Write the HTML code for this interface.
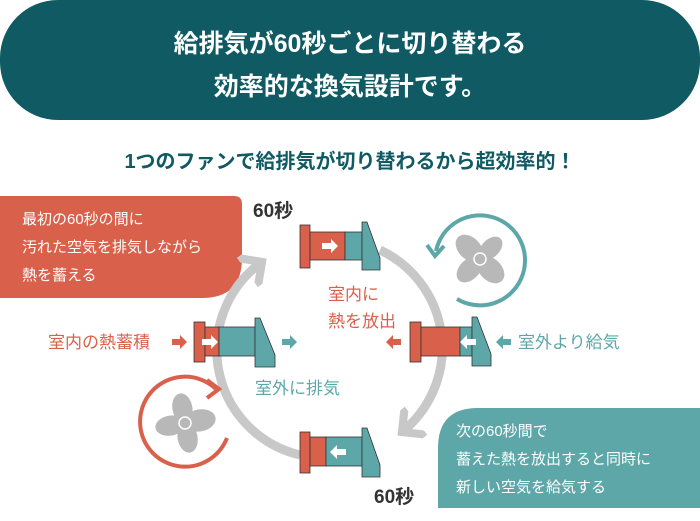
<!DOCTYPE html>
<html><head><meta charset="utf-8"><style>
html,body{margin:0;padding:0;background:#fff}
svg{display:block}
text{font-family:"Liberation Sans","Noto Sans CJK JP",sans-serif}
</style></head><body>
<svg width="700" height="521" viewBox="0 0 700 521" xmlns="http://www.w3.org/2000/svg">
<defs>
<marker id="ga" markerWidth="4" markerHeight="4" refX="2" refY="2" orient="auto" markerUnits="strokeWidth"><path d="M0,0 L2,2 L0,4" fill="none" stroke="#c8c8c8" stroke-width="0.9"/></marker>
</defs>
<rect x="0" y="0" width="700" height="120" rx="58" fill="#0f5a63"/>
<text x="350" y="52" text-anchor="middle" fill="#fff" font-size="25" font-weight="bold">給排気が60秒ごとに切り替わる</text>
<text x="350" y="95" text-anchor="middle" fill="#fff" font-size="25" font-weight="bold">効率的な換気設計です。</text>
<text x="350" y="168" text-anchor="middle" fill="#0f5a63" font-size="20" font-weight="bold">1つのファンで給排気が切り替わるから超効率的！</text>

<path d="M0,196 H234 Q242,196 242,204 V258 Q242,298 202,298 H0 Z" fill="#d9614c"/>
<text fill="#fff" font-size="15"><tspan x="22" y="224">最初の60秒の間に</tspan><tspan x="22" y="252">汚れた空気を排気しながら</tspan><tspan x="22" y="280">熱を蓄える</tspan></text>
<path d="M700,408 H478 Q438,408 438,448 V508 H700 Z" fill="#5ea7a9"/>
<text fill="#fff" font-size="15"><tspan x="456" y="436">次の60秒間で</tspan><tspan x="456" y="464">蓄えた熱を放出すると同時に</tspan><tspan x="456" y="492">新しい空気を給気する</tspan></text>

<path d="M300,455 A108,108 0 0 1 262,262" fill="none" stroke="#c8c8c8" stroke-width="9" marker-end="url(#ga)"/>
<path d="M380,250 A108,108 0 0 1 402,432" fill="none" stroke="#c8c8c8" stroke-width="9" marker-end="url(#ga)"/>

<g stroke="#333" stroke-width="0.8">
<rect x="300" y="225" width="10" height="43" fill="#d9614c"/>
<rect x="310" y="232" width="35" height="28" fill="#d9614c"/>
<rect x="345" y="232" width="17" height="28" fill="#5ea7a9"/>
<path d="M362,222 H367 L380,258 V270 H362 Z" fill="#5ea7a9"/>
<rect x="194" y="322" width="11" height="40" fill="#d9614c"/>
<rect x="205" y="327" width="14" height="29" fill="#d9614c"/>
<rect x="219" y="327" width="36" height="29" fill="#5ea7a9"/>
<path d="M255,318 H260 L275,355 V367 H255 Z" fill="#5ea7a9"/>
<rect x="410" y="322" width="11" height="40" fill="#d9614c"/>
<rect x="421" y="327" width="39" height="29" fill="#d9614c"/>
<rect x="460" y="327" width="12" height="29" fill="#5ea7a9"/>
<path d="M472,317 H477 L491,354 V366 H472 Z" fill="#5ea7a9"/>
<rect x="300" y="432" width="10" height="41" fill="#d9614c"/>
<rect x="310" y="437" width="16" height="29" fill="#d9614c"/>
<rect x="326" y="437" width="36" height="29" fill="#5ea7a9"/>
<path d="M362,428 H367 L380,465 V477 H362 Z" fill="#5ea7a9"/>
</g>
<g fill="#fff">
<path d="M322,243 H331 V239 L338,246 L331,253 V249 H322 Z"/>
<path d="M202,339 H211 V335 L218,342 L211,349 V345 H202 Z"/>
<path d="M476,339 H467 V335 L460,342 L467,349 V345 H476 Z"/>
<path d="M346,449 H337 V445 L330,452 L337,459 V455 H346 Z"/>
</g>
<path d="M172,339 H180 V335 L187,342 L180,349 V345 H172 Z" fill="#d9614c"/>
<path d="M282,339 H290 V335 L297,342 L290,349 V345 H282 Z" fill="#5ea7a9"/>
<path d="M401,339 H393 V335 L386,342 L393,349 V345 H401 Z" fill="#d9614c"/>
<path d="M511,339 H503 V335 L496,342 L503,349 V345 H511 Z" fill="#5ea7a9"/>

<!-- top-right fan -->
<path d="M457,299 A45,45 0 1 0 436,251" fill="none" stroke="#5ea7a9" stroke-width="4"/>
<path d="M427,245 L435,256 L444,246" fill="none" stroke="#5ea7a9" stroke-width="4"/>
<g transform="translate(480,259)">
<g fill="#b8b8b8"><ellipse cx="0" cy="-15" rx="11" ry="16" transform="rotate(-45)"/><ellipse cx="0" cy="-15" rx="9" ry="14" transform="rotate(45)"/><ellipse cx="0" cy="-15" rx="11" ry="16" transform="rotate(135)"/><ellipse cx="0" cy="-15" rx="10" ry="15" transform="rotate(225)"/></g>
<circle r="6" fill="#b8b8b8" stroke="#fff" stroke-width="1.5"/>
</g>
<!-- bottom-left fan -->
<path d="M227,438 A45,45 0 1 1 216,389" fill="none" stroke="#d9614c" stroke-width="4"/>
<path d="M207,380 L219,389 L207,398" fill="none" stroke="#d9614c" stroke-width="4"/>
<g transform="translate(185,423)">
<g fill="#b8b8b8"><ellipse cx="0" cy="-15" rx="10" ry="15" transform="rotate(-10)"/><ellipse cx="0" cy="-15" rx="11" ry="16" transform="rotate(80)"/><ellipse cx="0" cy="-15" rx="10" ry="15" transform="rotate(170)"/><ellipse cx="0" cy="-15" rx="10" ry="15" transform="rotate(260)"/></g>
<circle r="6" fill="#b8b8b8" stroke="#fff" stroke-width="1.5"/>
</g>

<text x="253" y="217" fill="#333" font-size="19" font-weight="bold">60秒</text>
<text x="374" y="503" fill="#333" font-size="19" font-weight="bold">60秒</text>
<text x="328" y="300" fill="#d9614c" font-size="17">室内に</text>
<text x="328" y="327" fill="#d9614c" font-size="17">熱を放出</text>
<text x="255" y="394" fill="#5ea7a9" font-size="17">室外に排気</text>
<text x="48" y="348" fill="#d9614c" font-size="17">室内の熱蓄積</text>
<text x="518" y="348" fill="#5ea7a9" font-size="17">室外より給気</text>
</svg>
</body></html>
